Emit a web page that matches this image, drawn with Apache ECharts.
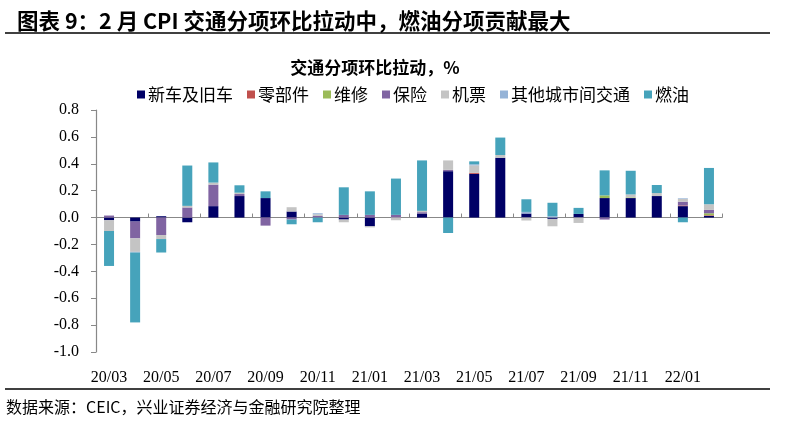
<!DOCTYPE html>
<html><head><meta charset="utf-8">
<script src="https://cdn.jsdelivr.net/npm/echarts@6/dist/echarts.min.js"></script>
<style>html,body{margin:0;padding:0;background:#fff;}#c{width:799px;height:421px;}</style>
</head><body><div id="c"></div>
<script>
const categories = ['20/03','20/04','20/05','20/06','20/07','20/08','20/09','20/10','20/11','20/12','21/01','21/02','21/03','21/04','21/05','21/06','21/07','21/08','21/09','21/10','21/11','21/12','22/01','22/02'];
const newCar    = [-0.02,-0.03,0.01,-0.035,0.085,0.16,0.145,0.045,0,-0.015,-0.065,0,0.03,0.345,0.325,0.445,0.03,-0.01,0.027,0.145,0.145,0.16,0.085,0.012];
const parts     = [0,0,0,0,0,0,0,0,0,0,0,0,0,0,0.008,0,0,0,0,0,0,0,0.005,0.005];
const repair    = [0,0,0,0,0,0,0,0,0,0,0,0,0,0,0,0,0,0,0,0.02,0.005,0,0,0.015];
const insurance = [0.015,-0.125,-0.13,0.075,0.16,0.015,-0.06,-0.015,0.012,0.02,0.02,0.02,0.01,0.01,0,0,0,0,0,-0.015,0,0,0.028,0.025];
const airfare   = [-0.08,-0.1,-0.03,0.012,0.015,0.01,0,0.032,0.012,-0.02,-0.008,-0.02,0.01,0.07,0.055,0.02,-0.022,-0.055,-0.04,0,0.022,0.022,0.02,0.042];
const otherTrans= [0,-0.005,0,0,0,0,0,0,0.008,0,0,0,0,0,0.008,0,0.012,0.01,0,0,0,0,0.005,0];
const fuel      = [-0.26,-0.52,-0.10,0.30,0.15,0.055,0.05,-0.035,-0.035,0.205,0.175,0.27,0.375,-0.115,0.022,0.13,0.094,0.10,0.045,0.186,0.176,0.06,-0.035,0.27];
const yTicks = {min:-1.0, max:0.8, interval:0.2};

const names = ['新车及旧车','零部件','维修','保险','机票','其他城市间交通','燃油'];
const colors = ['#000066','#c0504d','#9bbb59','#8064a2','#c4c4c4','#95b3d7','#46a3bb'];
const datas = [newCar,parts,repair,insurance,airfare,otherTrans,fuel];

const chart = echarts.init(document.getElementById('c'));
const serif = '"Liberation Serif","DejaVu Serif",serif';
const cjk = '"Noto Sans CJK SC","Liberation Serif",sans-serif';
chart.setOption({
  animation:false,
  color: colors,
  title:[
    {text:'图表 9：2 月 CPI 交通分项环比拉动中，燃油分项贡献最大', left:12, top:5,
     textStyle:{fontFamily:cjk, fontSize:21.5, fontWeight:'bold', color:'#000'}},
    {text:'交通分项环比拉动，%', left:370, textAlign:'center', top:54,
     textStyle:{fontFamily:cjk, fontSize:17, fontWeight:'bold', color:'#000'}}
  ],
  legend:{left:132, top:81, itemWidth:8, itemHeight:8, itemGap:14, icon:'rect',
    textStyle:{fontFamily:cjk, fontSize:17, color:'#000', padding:[0,0,0,-2]},
    data:names},
  grid:{left:96, top:110, width:626, height:242, outerBoundsMode:'none', containLabel:false},
  xAxis:{type:'category', data:categories,
    axisLine:{onZero:true, lineStyle:{color:'#888', width:1.2}},
    axisTick:{show:true, inside:true, length:4, interval:1, lineStyle:{color:'#888'}},
    axisLabel:{interval:1, margin:18, fontFamily:serif, fontSize:16, color:'#000'}},
  yAxis:{type:'value', min:yTicks.min, max:yTicks.max, interval:yTicks.interval,
    axisLine:{show:true, lineStyle:{color:'#888', width:1.2}},
    axisTick:{show:true, length:5, lineStyle:{color:'#888'}},
    splitLine:{show:false},
    axisLabel:{margin:17, fontFamily:serif, fontSize:16, color:'#000', formatter:v=>v.toFixed(1)}},
  series: names.map((n,i)=>({name:n, type:'bar', stack:'t', data:datas[i], barWidth:10,
    itemStyle:{color:colors[i]}})),
  graphic:[
    {type:'line', shape:{x1:5,y1:33,x2:770,y2:33}, style:{stroke:'#000', lineWidth:1.5}},
    {type:'line', shape:{x1:5,y1:389,x2:770,y2:389}, style:{stroke:'#000', lineWidth:1.5}},
    {type:'text', left:6, top:399, style:{text:'数据来源：CEIC，兴业证券经济与金融研究院整理', font:'16px '+cjk, fill:'#000'}}
  ]
});
</script></body></html>
